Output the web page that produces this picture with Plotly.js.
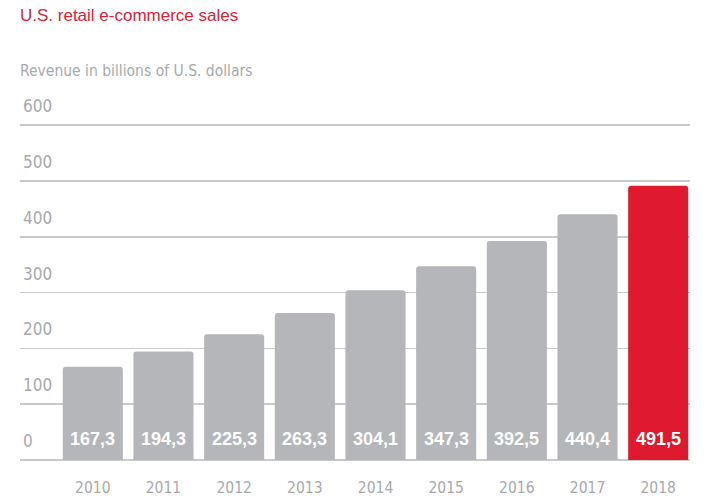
<!DOCTYPE html>
<html>
<head>
<meta charset="utf-8">
<script src="https://cdn.plot.ly/plotly-3.0.1.min.js"></script>
<style>html,body{margin:0;padding:0;background:#fff}#chart{width:708px;height:500px}</style>
</head>
<body>
<div id="chart"></div>
<script>
const years = ['2010','2011','2012','2013','2014','2015','2016','2017','2018'];
const revenue = [167.3, 194.3, 225.3, 263.3, 304.1, 347.3, 392.5, 440.4, 491.5];
const valueLabels = ['167,3','194,3','225,3','263,3','304,1','347,3','392,5','440,4','491,5'];
const yTicks = [0, 100, 200, 300, 400, 500, 600];

const GRAY = '#b5b6b9', RED = '#df1a2e';
const narrow = '"Liberation Sans Narrow", "DejaVu Sans Condensed", Roboto, Arial, sans-serif';

const colors = years.map((y, i) => i === years.length - 1 ? RED : GRAY);

const trace = {
  type: 'bar', x: years, y: revenue,
  marker: {color: colors, cornerradius: 3},
  hoverinfo: 'skip'
};

const annotations = years.map((y, i) => ({
  x: i, y: 0, xref: 'x', yref: 'y', text: '<b>' + valueLabels[i] + '</b>', showarrow: false,
  yanchor: 'bottom', yshift: 9,
  font: {family: 'Liberation Sans, Arial, sans-serif', size: 18, color: '#ffffff'}
}));
annotations.push({
  xref: 'paper', yref: 'paper', x: 0, y: (460 - 71) / 346, xanchor: 'left', yanchor: 'middle', xshift: -2,
  text: 'Revenue in billions of U.S. dollars', showarrow: false,
  font: {family: narrow, size: 15.5, color: '#a7a9ac'}
});

const layout = {
  width: 708, height: 500,
  margin: {l: 20, r: 18, t: 114, b: 40},
  paper_bgcolor: '#fff', plot_bgcolor: '#fff',
  title: {text: 'U.S. retail e-commerce sales', xref: 'container', yref: 'container',
          x: 20/708, xanchor: 'left', y: 1 - 15/500, yanchor: 'middle',
          font: {family: 'Liberation Sans, Arial, sans-serif', size: 17, color: '#d62239'}},
  bargap: 0.15,
  showlegend: false,
  xaxis: {
    type: 'category', range: [-1.03, 8.45], fixedrange: true,
    showgrid: false, zeroline: false, showline: false,
    ticks: 'outside', ticklen: 0, ticklabelstandoff: 13,
    tickfont: {family: narrow, size: 15.5, color: '#a7a9ac'}
  },
  yaxis: {
    range: [0, 620], tickvals: yTicks, ticktext: yTicks.map(String),
    showgrid: true, gridcolor: '#c9c9cb', gridwidth: 1.5,
    zeroline: true, zerolinecolor: '#c9c9cb', zerolinewidth: 1.5,
    showline: false,
    ticklabelposition: 'inside', ticklabeloverflow: 'allow',
    ticklabelshift: -19, ticklabelstandoff: 0,
    tickfont: {family: narrow, size: 17, color: '#a7a9ac'}
  },
  annotations: annotations
};

Plotly.newPlot('chart', [trace], layout, {displayModeBar: false, staticPlot: true});
</script>
</body>
</html>
